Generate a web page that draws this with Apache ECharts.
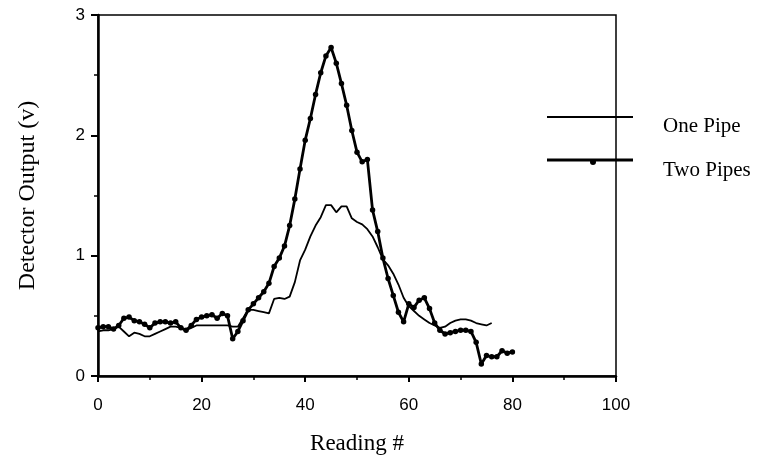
<!DOCTYPE html>
<html>
<head>
<meta charset="UTF-8">
<title>Detector Output</title>
<script src="https://cdn.jsdelivr.net/npm/echarts@6/dist/echarts.min.js"></script>
<style>
  html, body { margin: 0; padding: 0; background: #fff; }
  #main { width: 783px; height: 463px; }
</style>
</head>
<body>
<div id="main"></div>
<script>
// readings 0..76, one pipe
var onePipe = [
  0.37, 0.38, 0.38, 0.39, 0.41, 0.37, 0.33, 0.36, 0.35, 0.33,
  0.33, 0.35, 0.37, 0.39, 0.41, 0.41, 0.40, 0.38, 0.40, 0.42,
  0.42, 0.42, 0.42, 0.42, 0.42, 0.42, 0.41, 0.41, 0.48, 0.55,
  0.55, 0.54, 0.53, 0.52, 0.64, 0.65, 0.64, 0.66, 0.78, 0.96,
  1.05, 1.16, 1.25, 1.32, 1.42, 1.42, 1.36, 1.41, 1.41, 1.31,
  1.28, 1.26, 1.22, 1.16, 1.07, 0.97, 0.92, 0.85, 0.76, 0.65,
  0.58, 0.54, 0.50, 0.47, 0.44, 0.42, 0.40, 0.41, 0.44, 0.46,
  0.47, 0.47, 0.46, 0.44, 0.43, 0.42, 0.44
];
// readings 0..80, two pipes
var twoPipes = [
  0.40, 0.41, 0.41, 0.39, 0.42, 0.48, 0.49, 0.46, 0.45, 0.43,
  0.40, 0.44, 0.45, 0.45, 0.44, 0.45, 0.40, 0.38, 0.42, 0.47,
  0.49, 0.50, 0.51, 0.48, 0.52, 0.50, 0.31, 0.37, 0.46, 0.55,
  0.60, 0.65, 0.70, 0.77, 0.91, 0.98, 1.08, 1.25, 1.47, 1.72,
  1.96, 2.14, 2.34, 2.52, 2.66, 2.73, 2.60, 2.43, 2.25, 2.04,
  1.86, 1.78, 1.80, 1.38, 1.20, 0.98, 0.81, 0.67, 0.53, 0.45,
  0.60, 0.57, 0.63, 0.65, 0.56, 0.44, 0.38, 0.35, 0.36, 0.37,
  0.38, 0.38, 0.37, 0.28, 0.10, 0.17, 0.16, 0.16, 0.21, 0.19,
  0.20
];
var seriesNames = ['One Pipe', 'Two Pipes'];

function toPoints(arr) {
  var out = [];
  for (var i = 0; i < arr.length; i++) out.push([i, arr[i]]);
  return out;
}

var myChart = echarts.init(document.getElementById('main'));

var tickFont = { fontFamily: 'Liberation Sans', fontSize: 17, color: '#000' };
var legendFont = { fontFamily: 'Liberation Serif', fontSize: 21, fill: '#000' };

// legend drawn by hand: plain line for one pipe, thick line with a dot for two pipes
var legendGraphic = [
  { type: 'line', shape: { x1: 547, y1: 117, x2: 633, y2: 117 }, style: { stroke: '#000', lineWidth: 2 }, z: 100 },
  { type: 'line', shape: { x1: 547, y1: 160, x2: 633, y2: 160 }, style: { stroke: '#000', lineWidth: 3 }, z: 100 },
  { type: 'circle', shape: { cx: 593, cy: 162, r: 3 }, style: { fill: '#000' }, z: 100 },
  { type: 'text', left: 663, top: 116, style: Object.assign({ text: seriesNames[0] }, legendFont), z: 100 },
  { type: 'text', left: 663, top: 160, style: Object.assign({ text: seriesNames[1] }, legendFont), z: 100 }
];

var option = {
  backgroundColor: '#fff',
  animation: false,
  grid: {
    left: 98, top: 15, width: 518, height: 361,
    show: true, borderColor: '#000', borderWidth: 1.5, backgroundColor: 'transparent'
  },
  graphic: legendGraphic,
  xAxis: {
    type: 'value',
    min: 0, max: 100, interval: 20,
    name: 'Reading #',
    nameLocation: 'middle',
    nameGap: 56,
    nameTextStyle: { fontFamily: 'Liberation Serif', fontSize: 23, color: '#000' },
    axisLine: { lineStyle: { color: '#000', width: 2.5 } },
    axisTick: { length: 6, lineStyle: { color: '#000', width: 2 } },
    minorTick: { show: true, splitNumber: 2, length: 4, lineStyle: { color: '#000', width: 1.5 } },
    axisLabel: Object.assign({ margin: 21 }, tickFont),
    splitLine: { show: false }
  },
  yAxis: {
    type: 'value',
    min: 0, max: 3, interval: 1,
    name: 'Detector Output (v)',
    nameLocation: 'middle',
    nameGap: 58,
    nameTextStyle: { fontFamily: 'Liberation Serif', fontSize: 24, color: '#000' },
    axisLine: { lineStyle: { color: '#000', width: 2.5 } },
    axisTick: { length: 7, lineStyle: { color: '#000', width: 2 } },
    minorTick: { show: true, splitNumber: 2, length: 4, lineStyle: { color: '#000', width: 1.5 } },
    axisLabel: Object.assign({ margin: 13 }, tickFont),
    splitLine: { show: false }
  },
  series: [
    {
      name: seriesNames[0],
      type: 'line',
      data: toPoints(onePipe),
      showSymbol: false,
      symbol: 'none',
      lineStyle: { color: '#000', width: 1.8 },
      itemStyle: { color: '#000' }
    },
    {
      name: seriesNames[1],
      type: 'line',
      data: toPoints(twoPipes),
      symbol: 'circle',
      symbolSize: 5.5,
      lineStyle: { color: '#000', width: 2.8 },
      itemStyle: { color: '#000' }
    }
  ]
};

myChart.setOption(option);
</script>
</body>
</html>
